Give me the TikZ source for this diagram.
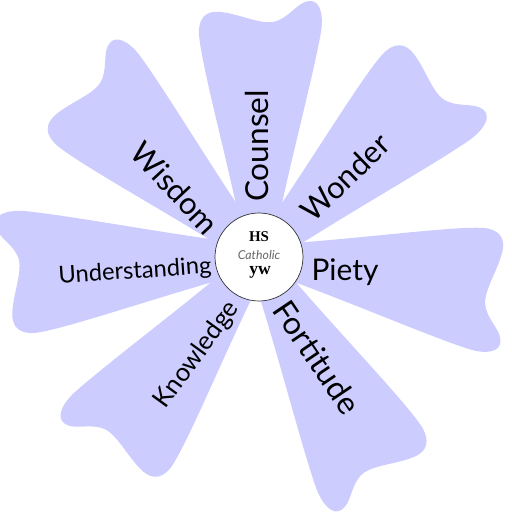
\documentclass[tikz,border=0pt]{standalone}
\usepackage{fontspec}
\setmainfont{Lato}
\newfontfamily\hsfont{Liberation Serif}
\definecolor{petalblue}{RGB}{204,204,255}
\tikzset{
  petalpic/.pic={
    \fill[petalblue] (30,-18) .. controls (90,-30) and (180,-54) .. (225,-62)
      .. controls (245,-65) and (257,-60) .. (256,-50)
      .. controls (255,-38) and (238,-30) .. (235,-14)
      .. controls (233,0) and (243,20) .. (245,38)
      .. controls (247,54) and (238,61) .. (222,60)
      .. controls (190,57) and (110,35) .. (30,18) -- cycle;
  },
  lbl/.style={inner sep=0pt, text=black},
  fs/.style={lbl, font=\fontsize{#1}{#1}\selectfont},
}
\begin{document}
\begin{tikzpicture}[x=0.02cm, y=0.02cm]
\useasboundingbox (0,0) rectangle (512,512);
\fill[white] (0,0) rectangle (512,512);
% petals
\pic[rotate=90] at (259,255) {petalpic};
\pic[rotate=44, xscale=1.03] at (259,255) {petalpic};
\pic[rotate=-8, xscale=0.98] at (259,255) {petalpic};
\pic[rotate=-61, xscale=1.02] at (259,255) {petalpic};
\pic[rotate=-128, xscale=0.98] at (259,255) {petalpic};
\pic[rotate=184, xscale=1.02] at (259,255) {petalpic};
\pic[rotate=136] at (259,255) {petalpic};
% hub
\node[circle, draw=black!80, fill=white, line width=0.4pt, minimum size=1.76cm, inner sep=0pt] (hub) at (259,255) {};
\node[lbl, font=\hsfont\bfseries\fontsize{8.5}{8.5}\selectfont] (hs) at (259,275) {HS};
\node[lbl, text=black!60, font=\itshape\fontsize{7}{7}\selectfont] (cath) at (259,257) {Catholic};
\node[lbl, font=\hsfont\bfseries\fontsize{10}{10}\selectfont] (yw) at (260,240) {yw};
% labels
\node[fs=18, rotate=90] (counsel) at (257,366) {Counsel};
\node[fs=17.5, rotate=44] (wonder) at (345,335) {Wonder};
\node[fs=17] (piety) at (345,240) {Piety};
\node[fs=18, rotate=-56] (fortitude) at (317,155) {Fortitude};
\node[fs=14.5, rotate=54] (knowledge) at (197,157) {Knowledge};
\node[fs=13.5, rotate=4] (understanding) at (135,240) {Understanding};
\node[fs=17.5, rotate=-47] (wisdom) at (175,324) {Wisdom};
\end{tikzpicture}
\end{document}
